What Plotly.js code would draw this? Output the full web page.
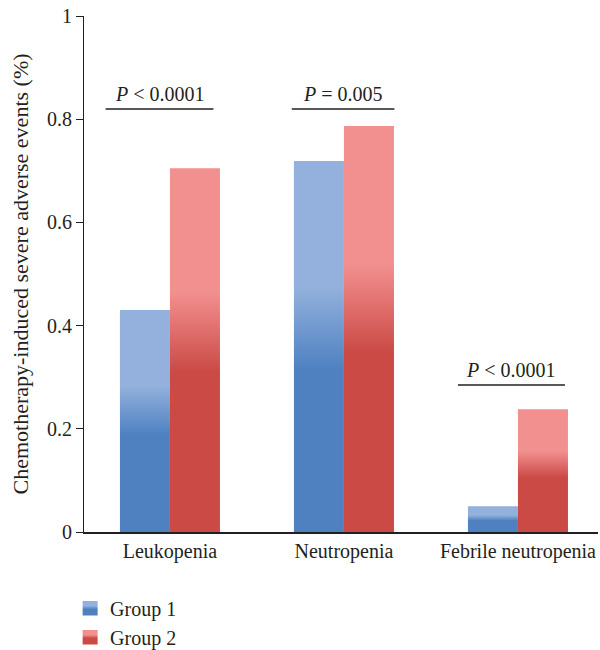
<!DOCTYPE html>
<html>
<head>
<meta charset="utf-8">
<script src="https://cdn.plot.ly/plotly-3.0.1.min.js"></script>
<style>html,body{margin:0;padding:0;background:#fff;}#chart{width:600px;height:650px;}</style>
</head>
<body>
<div id="chart"></div>
<script>
const categories = ["Leukopenia", "Neutropenia", "Febrile neutropenia"];
const group1 = [0.430, 0.719, 0.050];
const group2 = [0.705, 0.787, 0.238];
const seriesNames = ["Group 1", "Group 2"];
const pLabels = ["<i>P</i> &lt; 0.0001", "<i>P</i> = 0.005", "<i>P</i> &lt; 0.0001"];
const pLevels = [0.82, 0.82, 0.285];
const pLineLeft = [-0.37, -0.30, -0.345];
const pLineRight = [0.25, 0.29, 0.27];
const yTicks = [0, 0.2, 0.4, 0.6, 0.8, 1];

const ink = "#231f20";
const fontFam = "Liberation Serif, DejaVu Serif, serif";

const traces = [
  {type: "bar", name: seriesNames[0], x: categories, y: group1, marker: {color: "#5f8dca"}},
  {type: "bar", name: seriesNames[1], x: categories, y: group2, marker: {color: "#dc6563"}}
];

const shapes = categories.map((c, i) => ({
  type: "line", xref: "x", yref: "y",
  x0: i + pLineLeft[i], x1: i + pLineRight[i], y0: pLevels[i], y1: pLevels[i],
  line: {color: ink, width: 1.5}
}));
const annotations = categories.map((c, i) => ({
  xref: "x", yref: "y", x: i + (pLineLeft[i] + pLineRight[i]) / 2, y: pLevels[i],
  yanchor: "bottom", yshift: 2, showarrow: false, text: pLabels[i],
  font: {family: fontFam, size: 20, color: ink}
}));

const layout = {
  width: 600, height: 650,
  margin: {l: 84, r: 2, t: 16, b: 118, autoexpand: false},
  paper_bgcolor: "#fff", plot_bgcolor: "#fff",
  font: {family: fontFam, size: 20, color: ink},
  barmode: "group", bargap: 0.425, bargroupgap: 0,
  showlegend: true,
  legend: {x: -0.027, xanchor: "left", y: -0.11, yanchor: "top", orientation: "v",
           font: {family: fontFam, size: 20, color: ink}, itemwidth: 30, tracegroupgap: 0},
  xaxis: {range: [-0.494, 2.46], showline: true, linecolor: ink, linewidth: 1.5,
          ticks: "", showgrid: false, zeroline: false, fixedrange: true,
          tickfont: {family: fontFam, size: 20, color: ink}},
  yaxis: {range: [0, 1], tickvals: yTicks, ticktext: yTicks.map(String),
          showline: true, linecolor: ink, linewidth: 1, ticks: "outside", ticklen: 7,
          tickcolor: ink, showgrid: false, zeroline: false,
          tickfont: {family: fontFam, size: 20, color: ink},
          title: {text: "Chemotherapy-induced severe adverse events (%)",
                  font: {family: fontFam, size: 22, color: ink}, standoff: 12}},
  shapes: shapes, annotations: annotations
};

function addGradients(gd) {
  const svg = gd.querySelector("svg.main-svg");
  const ns = "http://www.w3.org/2000/svg";
  let defs = svg.querySelector("defs");
  const specs = [
    {id: "gradG1", light: "#93b1dc", dark: "#4f81c1"},
    {id: "gradG2", light: "#f29090", dark: "#cb4a45"}
  ];
  specs.forEach(s => {
    const g = document.createElementNS(ns, "linearGradient");
    g.setAttribute("id", s.id);
    g.setAttribute("x1", "0"); g.setAttribute("y1", "0");
    g.setAttribute("x2", "0"); g.setAttribute("y2", "1");
    [[0, s.light], [0.34, s.light], [0.56, s.dark], [1, s.dark]].forEach(([o, c]) => {
      const st = document.createElementNS(ns, "stop");
      st.setAttribute("offset", o);
      st.setAttribute("stop-color", c);
      g.appendChild(st);
    });
    defs.appendChild(g);
  });
  const barTraces = gd.querySelectorAll(".barlayer .trace");
  barTraces.forEach((t, i) => {
    t.querySelectorAll("path").forEach(p => { p.style.fill = "url(#" + specs[i].id + ")"; });
  });
  const legTraces = gd.querySelectorAll(".legend .traces");
  legTraces.forEach((t, i) => {
    t.querySelectorAll(".legendpoints path").forEach(p => {
      p.style.fill = "url(#" + specs[i].id + ")";
      p.style.stroke = "none";
      const old = p.getAttribute("transform") || "";
      p.setAttribute("transform", old + " scale(1.25,1.2)");
    });
  });
}

Plotly.newPlot("chart", traces, layout, {staticPlot: true}).then(addGradients);
</script>
</body>
</html>
